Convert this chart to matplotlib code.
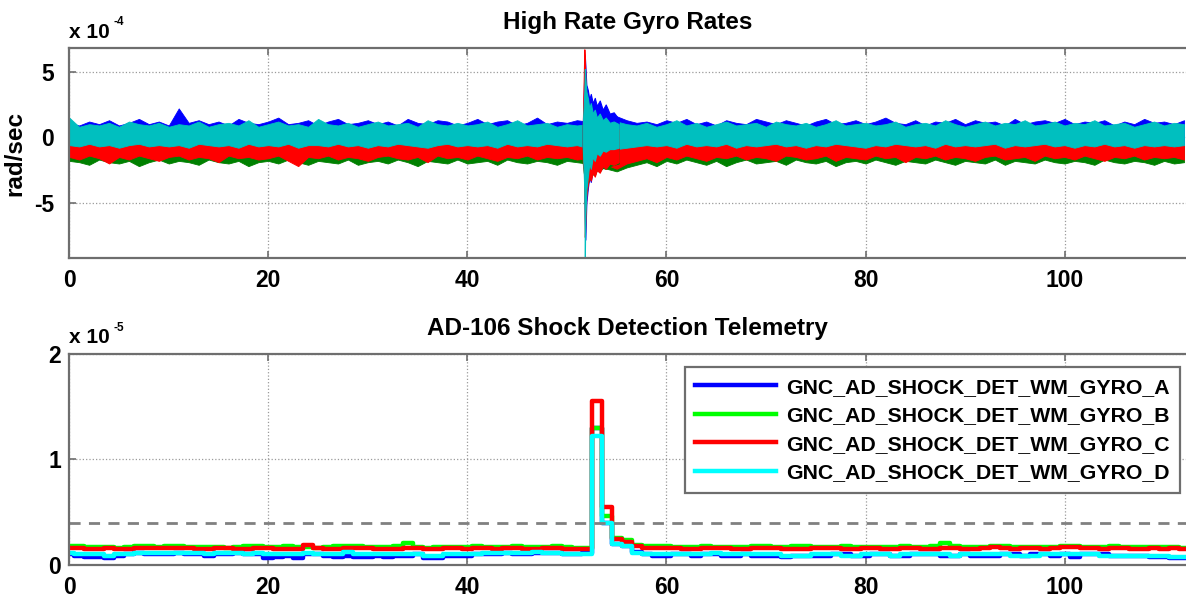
import matplotlib
matplotlib.use("Agg")
import matplotlib.pyplot as plt
import numpy as np

plt.rcParams['font.family'] = ['Liberation Sans', 'DejaVu Sans']
plt.rcParams['font.weight'] = 'bold'

# ---------------- data ----------------
# high rate gyro rates, envelope of the noise band per second (units 1e-4 rad/sec)
t_top = np.arange(0, 113)
blue_hi = [1.1, 0.9, 1.2, 1.0, 1.3, 0.9, 1.1, 1.4, 1.0, 1.2,
           0.9, 2.2, 1.1, 1.3, 1.0, 1.2, 0.9, 1.4, 1.1, 1.0,
           1.2, 1.5, 1.0, 1.1, 1.3, 0.9, 1.2, 1.4, 1.0, 1.1,
           1.3, 1.0, 1.2, 0.9, 1.4, 1.1, 1.0, 1.3, 1.2, 0.9,
           1.1, 1.4, 1.0, 1.2, 1.3, 0.9, 1.1, 1.5, 1.0, 1.2,
           1.1, 1.3, 1.2, 1.0, 1.3, 1.6, 1.3, 1.1, 1.2, 1.0,
           1.3, 1.1, 1.4, 1.0, 1.2, 0.9, 1.3, 1.1, 1.0, 1.4,
           1.2, 1.0, 1.3, 1.1, 0.9, 1.2, 1.4, 1.0, 1.1, 1.3,
           1.0, 1.2, 1.5, 1.1, 1.0, 1.3, 0.9, 1.2, 1.1, 1.4,
           1.0, 1.3, 1.1, 1.2, 0.9, 1.4, 1.0, 1.2, 1.3, 1.1,
           1.4, 1.0, 1.2, 1.1, 1.3, 0.9, 1.2, 1.0, 1.4, 1.1,
           1.2, 1.0, 1.3]
cyan_hi = [1.5, 0.8, 1.0, 0.9, 1.1, 0.8, 1.2, 1.0, 0.9, 1.1,
           0.8, 1.0, 0.9, 1.2, 0.8, 1.0, 1.1, 0.9, 1.3, 0.8,
           1.0, 1.2, 0.9, 1.0, 0.8, 1.4, 1.0, 0.9, 1.1, 0.8,
           1.0, 1.2, 0.9, 1.0, 1.1, 0.8, 1.3, 1.0, 0.9, 1.1,
           0.9, 1.0, 1.2, 0.8, 1.0, 1.3, 0.9, 1.0, 1.1, 0.8,
           1.0, 0.9, 1.0, 0.9, 1.1, 1.2, 1.0, 0.9, 1.1, 0.8,
           1.0, 1.3, 0.9, 1.1, 0.8, 1.0, 1.2, 0.9, 1.0, 1.1,
           0.8, 1.2, 1.0, 0.9, 1.1, 0.8, 1.0, 1.3, 0.9, 1.0,
           1.1, 0.9, 1.0, 1.2, 0.8, 1.0, 1.1, 0.9, 1.3, 1.0,
           0.8, 1.0, 1.2, 0.9, 1.1, 1.0, 1.3, 0.9, 1.0, 1.2,
           0.9, 1.1, 1.0, 1.3, 0.9, 1.0, 1.1, 0.8, 1.0, 1.2,
           0.9, 1.1, 1.0]
cyan_lo = [-0.6, -0.7, -0.5, -0.7, -0.6, -0.8, -0.6, -0.5, -0.7, -0.6,
           -0.7, -0.6, -0.8, -0.5, -0.6, -0.7, -0.6, -0.8, -0.5, -0.7,
           -0.6, -0.7, -0.5, -0.8, -0.6, -0.6, -0.7, -0.5, -0.7, -0.6,
           -0.8, -0.6, -0.7, -0.5, -0.6, -0.7, -0.8, -0.6, -0.5, -0.7,
           -0.6, -0.7, -0.6, -0.8, -0.5, -0.7, -0.6, -0.7, -0.5, -0.6,
           -0.7, -0.6, -0.8, -0.7, -0.8, -0.9, -0.8, -0.7, -0.6, -0.7,
           -0.6, -0.8, -0.5, -0.7, -0.6, -0.7, -0.5, -0.8, -0.6, -0.7,
           -0.6, -0.5, -0.7, -0.6, -0.8, -0.6, -0.7, -0.5, -0.6, -0.7,
           -0.8, -0.6, -0.7, -0.5, -0.6, -0.7, -0.6, -0.8, -0.5, -0.7,
           -0.6, -0.7, -0.6, -0.5, -0.8, -0.6, -0.7, -0.6, -0.5, -0.7,
           -0.6, -0.8, -0.6, -0.7, -0.5, -0.7, -0.6, -0.8, -0.6, -0.7,
           -0.6, -0.7, -0.6]
red_lo = [-1.5, -1.7, -1.4, -1.6, -2.0, -1.5, -1.7, -1.4, -1.6, -1.8,
          -1.5, -1.4, -1.7, -1.5, -1.6, -1.9, -1.4, -1.6, -1.5, -1.7,
          -1.6, -1.4, -1.8, -2.2, -1.5, -1.6, -1.4, -1.7, -1.5, -1.6,
          -1.8, -1.5, -1.4, -1.6, -1.7, -1.5, -1.9, -1.4, -1.6, -1.5,
          -1.7, -1.4, -1.6, -1.8, -1.5, -1.6, -1.4, -1.7, -1.5, -1.6,
          -1.5, -1.7, -1.6, -1.9, -2.1, -2.4, -2.0, -1.8, -1.6, -1.9,
          -1.5, -1.7, -1.4, -1.6, -1.8, -1.5, -1.6, -1.4, -1.7, -1.5,
          -1.6, -1.8, -1.4, -1.5, -1.7, -1.6, -1.4, -1.8, -1.5, -1.6,
          -1.7, -1.4, -1.6, -1.5, -1.9, -1.5, -1.6, -1.4, -1.7, -1.5,
          -1.6, -1.8, -1.5, -1.4, -1.7, -1.6, -1.5, -1.8, -1.4, -1.6,
          -1.5, -1.7, -1.4, -1.6, -1.8, -1.5, -1.6, -1.4, -1.7, -1.5,
          -1.6, -1.5, -1.7]
green_lo = [-1.8, -1.9, -2.1, -1.7, -1.9, -2.0, -1.8, -2.2, -1.9, -1.7,
            -2.0, -1.8, -1.9, -2.1, -1.7, -1.9, -2.0, -1.8, -2.2, -1.9,
            -1.8, -2.0, -1.7, -1.9, -2.1, -1.8, -1.9, -2.0, -1.7, -2.1,
            -1.9, -1.8, -2.0, -1.7, -1.9, -2.2, -1.8, -1.9, -2.0, -1.7,
            -2.0, -1.9, -1.8, -2.1, -1.7, -1.9, -2.0, -1.8, -1.9, -2.1,
            -1.8, -1.9, -2.0, -2.3, -2.4, -2.6, -2.3, -2.1, -1.9, -2.2,
            -1.8, -2.0, -1.7, -1.9, -2.1, -1.8, -2.2, -1.9, -1.7, -2.0,
            -1.9, -1.8, -2.1, -1.7, -1.9, -2.0, -1.8, -2.2, -1.9, -1.8,
            -2.0, -1.7, -1.9, -2.1, -1.8, -1.9, -2.0, -1.7, -1.9, -2.1,
            -1.8, -1.9, -2.0, -1.7, -2.1, -1.8, -1.9, -2.0, -1.7, -1.9,
            -2.0, -1.8, -1.9, -2.1, -1.7, -1.9, -2.0, -1.8, -1.9, -2.1,
            -1.8, -2.0, -1.9]

# shock burst around t = 52 s (units 1e-4 rad/sec)
t_burst = [51.6, 51.75, 51.8, 51.85, 51.95, 52.1, 52.25, 52.4, 52.6, 52.8,
           53.0, 53.3, 53.6, 53.9, 54.3, 54.7, 55.2]
burst_blue_hi = [1.0, 5.0, 6.2, 5.5, 4.0, 3.6, 2.9, 3.3, 2.6, 3.0, 2.4, 2.8, 2.1, 2.5, 1.8, 1.9, 1.4]
burst_blue_lo = [-0.8, -2.0, -6.0, -7.8, -5.0, -3.9, -3.0, -3.4, -2.4, -2.8, -2.0, -2.3, -1.7, -1.9, -1.4, -1.3, -1.0]
burst_green_hi = [0.8, 2.0, 3.0, 2.5, 2.0, 1.8, 1.5, 1.3, 1.1, 1.0, 0.9, 0.8, 0.8, 0.7, 0.7, 0.6, 0.6]
burst_green_lo = [-2.0, -3.0, -5.0, -4.5, -4.0, -3.5, -3.2, -3.0, -2.8, -2.9, -2.5, -2.6, -2.3, -2.4, -2.2, -2.1, -2.0]
burst_red_hi = [1.0, 6.7, 6.0, 4.5, 3.2, 2.6, 2.2, 1.8, 1.6, 1.4, 1.2, 1.1, 1.0, 0.9, 0.8, 0.7, 0.6]
burst_red_lo = [-1.8, -3.0, -7.6, -6.5, -4.5, -3.6, -3.0, -3.3, -2.7, -3.0, -2.5, -2.7, -2.2, -2.4, -2.0, -2.1, -1.9]
burst_cyan_hi = [1.0, 3.5, 5.2, 4.5, 3.5, 3.0, 2.2, 2.6, 1.8, 2.1, 1.5, 1.8, 1.3, 1.5, 1.1, 1.2, 1.0]
burst_cyan_lo = [-0.8, -4.0, -9.2, -6.0, -4.0, -3.0, -2.0, -2.4, -1.5, -1.8, -1.2, -1.4, -1.0, -1.1, -0.9, -0.9, -0.8]

# shock detection telemetry, one sample per second (units 1e-6)
t_det = np.arange(0, 113)
det_a = [1.0, 0.9, 0.8, 0.8, 0.7, 0.9, 1.0, 1.1, 1.0, 1.0,
         1.0, 1.1, 1.0, 1.0, 0.9, 1.0, 1.0, 1.1, 1.0, 1.0,
         0.7, 0.8, 0.9, 0.7, 1.0, 1.0, 0.9, 0.8, 0.9, 0.8,
         0.8, 0.9, 0.8, 0.9, 0.9, 1.0, 0.7, 0.7, 0.9, 0.9,
         0.9, 1.0, 1.0, 1.0, 1.1, 1.0, 1.0, 1.1, 1.1, 1.1,
         1.0, 1.0, 1.1, 13.0, 4.0, 2.0, 1.8, 1.2, 1.0, 0.9,
         0.9, 1.0, 1.0, 0.9, 1.0, 1.0, 0.9, 0.9, 1.0, 0.9,
         0.9, 0.9, 0.8, 0.9, 0.9, 0.9, 0.9, 1.0, 1.0, 0.9,
         0.9, 1.0, 1.0, 0.9, 0.9, 1.0, 1.0, 1.0, 0.9, 0.9,
         1.0, 0.9, 0.9, 0.9, 1.0, 1.0, 0.9, 1.0, 1.0, 0.9,
         1.0, 0.8, 1.0, 1.0, 1.0, 0.9, 0.9, 0.9, 0.9, 0.8,
         0.8, 0.7, 0.7]
det_b = [1.8, 1.8, 1.7, 1.7, 1.7, 1.6, 1.7, 1.8, 1.8, 1.7,
         1.8, 1.8, 1.7, 1.7, 1.7, 1.7, 1.6, 1.7, 1.8, 1.8,
         1.7, 1.7, 1.8, 1.7, 1.7, 1.6, 1.7, 1.8, 1.8, 1.8,
         1.7, 1.7, 1.7, 1.8, 2.1, 1.7, 1.6, 1.7, 1.7, 1.7,
         1.7, 1.8, 1.7, 1.7, 1.7, 1.8, 1.7, 1.7, 1.7, 1.8,
         1.7, 1.6, 1.6, 13.0, 4.6, 2.6, 2.4, 1.9, 1.8, 1.8,
         1.8, 1.7, 1.7, 1.7, 1.8, 1.7, 1.7, 1.7, 1.7, 1.8,
         1.8, 1.7, 1.7, 1.8, 1.8, 1.7, 1.7, 1.7, 1.8, 1.7,
         1.7, 1.7, 1.7, 1.7, 1.8, 1.7, 1.7, 1.8, 2.1, 1.8,
         1.7, 1.7, 1.7, 1.8, 1.8, 1.7, 1.7, 1.7, 1.7, 1.7,
         1.8, 1.8, 1.7, 1.7, 1.7, 1.8, 1.7, 1.7, 1.7, 1.7,
         1.7, 1.7, 1.6]
det_c = [1.6, 1.6, 1.5, 1.5, 1.6, 1.5, 1.5, 1.6, 1.6, 1.6,
         1.6, 1.6, 1.6, 1.5, 1.5, 1.6, 1.6, 1.5, 1.5, 1.6,
         1.6, 1.5, 1.5, 1.5, 1.9, 1.6, 1.5, 1.5, 1.6, 1.6,
         1.6, 1.5, 1.5, 1.5, 1.6, 1.6, 1.5, 1.5, 1.6, 1.6,
         1.5, 1.6, 1.6, 1.5, 1.6, 1.6, 1.5, 1.5, 1.6, 1.6,
         1.5, 1.5, 1.5, 15.5, 5.5, 2.5, 2.2, 1.8, 1.6, 1.6,
         1.6, 1.6, 1.5, 1.5, 1.6, 1.6, 1.6, 1.5, 1.5, 1.6,
         1.6, 1.6, 1.5, 1.5, 1.5, 1.6, 1.6, 1.6, 1.5, 1.5,
         1.6, 1.6, 1.5, 1.5, 1.6, 1.6, 1.5, 1.5, 1.6, 1.6,
         1.5, 1.5, 1.6, 1.7, 1.6, 1.5, 1.6, 1.6, 1.5, 1.6,
         1.7, 1.7, 1.6, 1.6, 1.5, 1.6, 1.6, 1.5, 1.5, 1.6,
         1.5, 1.6, 1.5]
det_d = [1.1, 1.0, 1.0, 1.0, 0.9, 1.0, 1.0, 1.1, 1.1, 1.1,
         1.1, 1.1, 1.1, 1.1, 1.0, 1.1, 1.1, 1.1, 1.0, 1.1,
         1.0, 1.0, 1.0, 1.0, 1.1, 1.0, 1.0, 1.0, 1.2, 1.0,
         1.0, 1.0, 1.0, 1.0, 1.0, 1.0, 0.9, 0.9, 1.0, 1.0,
         1.0, 1.0, 1.1, 1.1, 1.1, 1.1, 1.1, 1.2, 1.1, 1.1,
         1.0, 1.0, 1.0, 12.2, 4.0, 2.0, 1.8, 1.1, 1.0, 1.0,
         1.0, 1.0, 1.0, 1.0, 1.0, 1.1, 1.0, 1.0, 1.0, 1.0,
         1.0, 1.0, 0.9, 0.9, 0.9, 1.0, 1.0, 1.0, 0.9, 0.9,
         1.0, 1.0, 1.0, 0.9, 1.0, 1.0, 1.0, 1.0, 1.0, 0.9,
         1.0, 1.0, 1.0, 1.0, 1.0, 0.9, 0.9, 0.9, 1.0, 1.0,
         1.0, 1.0, 1.0, 1.0, 0.9, 0.9, 0.9, 0.9, 0.9, 0.9,
         0.9, 0.8, 0.8]
det_threshold = 4.0  # units 1e-6
det_labels = ['GNC_AD_SHOCK_DET_WM_GYRO_A', 'GNC_AD_SHOCK_DET_WM_GYRO_B',
              'GNC_AD_SHOCK_DET_WM_GYRO_C', 'GNC_AD_SHOCK_DET_WM_GYRO_D']

# ---------------- figure ----------------
fig = plt.figure(figsize=(11.86, 6.01), dpi=100)
ax1 = fig.add_axes([0.0584, 0.5707, 0.9416, 0.3494])
ax2 = fig.add_axes([0.0584, 0.0599, 0.9416, 0.3511])

frame = '#6e6e6e'
grid_kw = dict(color='#9a9a9a', linestyle=':', linewidth=0.9)

def style(ax):
    for s in ['top', 'bottom', 'left']:
        ax.spines[s].set_color(frame)
        ax.spines[s].set_linewidth(1.6)
    ax.spines['right'].set_visible(False)
    ax.tick_params(direction='in', length=5, width=1.2, color=frame,
                   top=True, labelsize=16.5)
    ax.set_axisbelow(True)
    ax.grid(True, **grid_kw)
    for lab in ax.get_xticklabels() + ax.get_yticklabels():
        lab.set_fontweight('bold')

# top: high rate gyro rates
top_cols = {'blue': '#0000ff', 'green': '#008000', 'red': '#ff0000', 'cyan': '#00bfbf'}
ax1.fill_between(t_top, cyan_lo, blue_hi, color=top_cols['blue'], lw=0.6)
ax1.fill_between(t_top, green_lo, cyan_lo, color=top_cols['green'], lw=0.6)
ax1.fill_between(t_top, red_lo, cyan_lo, color=top_cols['red'], lw=0.6)
ax1.fill_between(t_top, cyan_lo, cyan_hi, color=top_cols['cyan'], lw=0.6)
ax1.fill_between(t_burst, burst_blue_lo, burst_blue_hi, color=top_cols['blue'], lw=0.8)
ax1.fill_between(t_burst, burst_green_lo, burst_green_hi, color=top_cols['green'], lw=0.8)
ax1.fill_between(t_burst, burst_red_lo, burst_red_hi, color=top_cols['red'], lw=0.8)
ax1.fill_between(t_burst, burst_cyan_lo, burst_cyan_hi, color=top_cols['cyan'], lw=0.8)

ax1.set_xlim(0, 112.2)
ax1.set_ylim(-9.2, 6.8)
ax1.set_xticks([0, 20, 40, 60, 80, 100])
ax1.set_yticks([-5, 0, 5])
ax1.set_yticklabels(['-5', '0', '5'])
style(ax1)
ax1.tick_params(axis='x', pad=8)
ax1.tick_params(axis='y', pad=11)
ax1.set_title('High Rate Gyro Rates', fontsize=17.5, fontweight='bold', pad=14)
ax1.set_ylabel('rad/sec', fontsize=17.5, fontweight='bold')
ax1.yaxis.set_label_coords(-0.038, 0.5)
ax1.text(0.0, 1.05, 'x 10', transform=ax1.transAxes, fontsize=15,
         fontweight='bold', ha='left', va='baseline')
ax1.text(0.040, 1.11, '-4', transform=ax1.transAxes, fontsize=8.5,
         fontweight='bold', ha='left', va='baseline')

# bottom: shock detection telemetry
det_cols = ['#0000ff', '#00ff00', '#ff0000', '#00ffff']
for vals, col, lab in zip([det_a, det_b, det_c, det_d], det_cols, det_labels):
    ax2.step(t_det, np.array(vals) / 10.0, where='mid', color=col, lw=3.2, label=lab)
ax2.axhline(det_threshold / 10.0, color='#808080', lw=2, linestyle=(0, (4, 3)))

ax2.set_xlim(0, 112.2)
ax2.set_ylim(0, 2)
ax2.set_xticks([0, 20, 40, 60, 80, 100])
ax2.set_yticks([0, 1, 2])
ax2.set_yticklabels(['0', '1', '2'])
style(ax2)
ax2.tick_params(axis='x', pad=8)
ax2.tick_params(axis='y', pad=6)
ax2.set_title('AD-106 Shock Detection Telemetry', fontsize=17.5, fontweight='bold', pad=14)
ax2.text(0.0, 1.05, 'x 10', transform=ax2.transAxes, fontsize=15,
         fontweight='bold', ha='left', va='baseline')
ax2.text(0.040, 1.11, '-5', transform=ax2.transAxes, fontsize=8.5,
         fontweight='bold', ha='left', va='baseline')

leg = ax2.legend(loc='upper right', bbox_to_anchor=(1180 / 1186, 1 - 367 / 601),
                 bbox_transform=fig.transFigure, borderaxespad=0,
                 prop={'size': 15.3, 'weight': 'bold'}, handlelength=3.8,
                 handletextpad=0.45, labelspacing=0.45, borderpad=0.5,
                 fancybox=False, framealpha=1)
leg.get_frame().set_edgecolor(frame)
leg.get_frame().set_linewidth(1.6)

fig.savefig('out.png', dpi=100)
